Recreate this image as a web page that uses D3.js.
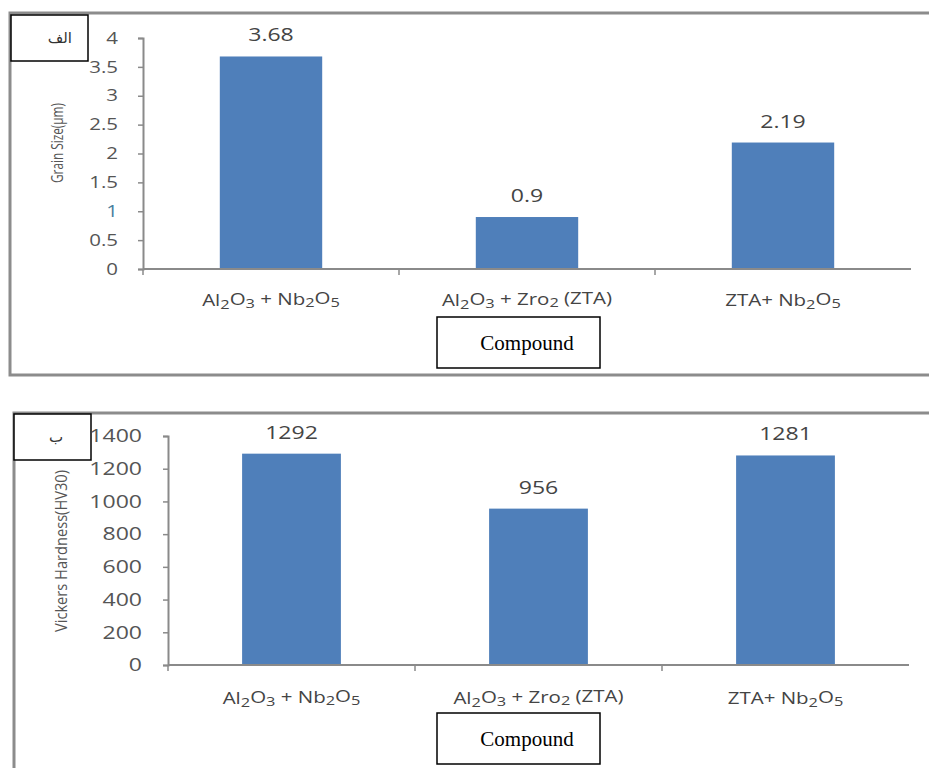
<!DOCTYPE html>
<html><head><meta charset="utf-8">
<script src="https://cdn.jsdelivr.net/npm/d3@7"></script>
<style>body{margin:0;background:#fff}svg{display:block}</style>
</head><body>
<svg id="c" width="929" height="768"></svg>
<script>
// ---- data ----
const categoriesTop = ["Al2O3 + Nb2O5", "Al2O3 + Zro2 (ZTA)", "ZTA+ Nb2O5"];
const grainSize = [3.68, 0.9, 2.19];
const grainTicks = [0, 0.5, 1, 1.5, 2, 2.5, 3, 3.5, 4];
const grainTickLabels = ["0", "0.5", "1", "1.5", "2", "2.5", "3", "3.5", "4"];

const categoriesBottom = ["Al2O3 + Nb2O5", "Al2O3 + Zro2 (ZTA)", "ZTA+ Nb2O5"];
const hardness = [1292, 956, 1281];
const hardTicks = [0, 200, 400, 600, 800, 1000, 1200, 1400];
const hardTickLabels = ["0", "200", "400", "600", "800", "1000", "1200", "1400"];

const svg = d3.select("#c");
const BAR = "#4f7fba", AX = "#8a8a8a", TXT = "#555";
const SX = 1.28; // horizontal stretch of the reference's lettering

function subLabel(sel, str) {
  const parts = str.match(/\d+|\D+/g);
  parts.forEach(p => {
    const isSub = /^\d+$/.test(p);
    sel.append("tspan").text(p)
      .attr("font-size", isSub ? "0.8em" : null)
      .attr("dy", isSub ? "0.22em" : null);
    if (isSub) sel.append("tspan").text("\u200B").attr("dy", "-0.22em");
  });
}

function stretchedText(parent, x, y) {
  return parent.append("text")
    .attr("transform", `translate(${x},${y}) scale(${SX},1)`)
    .attr("text-anchor", "middle");
}

function drawChart(o) {
  const g = svg.append("g");
  g.append("path")
    .attr("d", o.framePath)
    .attr("fill", "none").attr("stroke", "#8c8c8c").attr("stroke-width", 3);
  g.append("rect").attr("x", o.tag.x).attr("y", o.tag.y).attr("width", 77).attr("height", 46)
    .attr("fill", "#fff").attr("stroke", "#000").attr("stroke-width", 1.5);
  g.append("text").attr("x", o.tag.x + o.tag.tx).attr("y", o.tag.y + 28)
    .attr("text-anchor", "end").attr("direction", "ltr")
    .attr("font-family", "'DejaVu Sans', sans-serif")
    .attr("font-size", 15).attr("fill", "#333").text(o.tag.text);

  const y = d3.scaleLinear().domain(o.domain).range([o.y0, o.y1]);
  const x = d3.scaleBand().domain(o.cats).range([o.x0, o.x1]).paddingInner(0.6).paddingOuter(0.3);
  const step = x.step();

  g.selectAll(".bar").data(o.values).enter().append("rect")
    .attr("x", (d, i) => x(o.cats[i]))
    .attr("width", x.bandwidth())
    .attr("y", d => y(d))
    .attr("height", d => y(0) - y(d))
    .attr("fill", BAR);

  const yAxis = d3.axisLeft(y).tickValues(o.ticks).tickSize(5).tickPadding(o.tickPad)
    .tickFormat((d, i) => o.tickLabels[i]);
  const ya = g.append("g").attr("transform", `translate(${o.x0},0)`).call(yAxis);
  ya.select(".domain").attr("stroke", AX).attr("stroke-width", 2);
  ya.selectAll(".tick line").attr("stroke", AX).attr("stroke-width", 1.5);
  ya.selectAll(".tick text").attr("font-family", "'Open Sans', sans-serif")
    .attr("font-size", o.tickFont)
    .attr("fill", d => (o.blueOne && d === 1) ? "#4a7e9e" : TXT)
    .attr("x", -(5 + o.tickPad) / SX)
    .attr("transform", `scale(${SX},1)`);

  g.append("line").attr("x1", o.x0).attr("x2", o.x1).attr("y1", y(0)).attr("y2", y(0))
    .attr("stroke", AX).attr("stroke-width", 2);
  d3.range(o.cats.length).forEach(i => {
    g.append("line").attr("x1", o.x0 + i * step).attr("x2", o.x0 + i * step)
      .attr("y1", y(0)).attr("y2", y(0) + 6).attr("stroke", AX).attr("stroke-width", 1.5);
  });

  o.cats.forEach((c, i) => {
    const t = stretchedText(g, x(c) + x.bandwidth() / 2, o.catY)
      .attr("font-family", "'Open Sans', sans-serif")
      .attr("font-size", 16).attr("fill", "#444");
    subLabel(t, c);
  });

  o.values.forEach((d, i) => {
    stretchedText(g, x(o.cats[i]) + x.bandwidth() / 2, y(d) - 15)
      .attr("font-family", "'Open Sans', sans-serif")
      .attr("font-size", 18).attr("fill", "#444")
      .text(String(d));
  });

  g.append("text").attr("transform", `translate(${o.ytx},${o.yty}) rotate(-90)`)
    .attr("text-anchor", "middle").attr("font-family", "'Open Sans', sans-serif")
    .attr("font-size", 17).attr("fill", "#555")
    .attr("textLength", o.ytLen).attr("lengthAdjust", "spacingAndGlyphs")
    .text(o.ytitle);

  g.append("rect").attr("x", 437).attr("y", o.boxY).attr("width", 163).attr("height", 51)
    .attr("fill", "#fff").attr("stroke", "#000").attr("stroke-width", 1.5);
  g.append("text").attr("x", 527).attr("y", o.boxY + 33).attr("text-anchor", "middle")
    .attr("font-family", "'Liberation Serif', 'Times New Roman', serif")
    .attr("font-size", 21).attr("fill", "#000").text("Compound");
}

drawChart({
  framePath: "M935,13 L10,13 L10,375 L935,375",
  tag: {x: 11, y: 15, tx: 61, text: "الف"},
  domain: [0, 4], y0: 269, y1: 38, x0: 143, x1: 911,
  cats: categoriesTop, values: grainSize, ticks: grainTicks, tickLabels: grainTickLabels,
  tickPad: 20, tickFont: 16, blueOne: true,
  catY: 306, ytitle: "Grain Size(\u00B5m)", ytx: 63, yty: 143, ytLen: 80,
  boxY: 317
});

drawChart({
  framePath: "M935,413 L14,413 L14,775",
  tag: {x: 14, y: 414, tx: 49, text: "ب"},
  domain: [0, 1400], y0: 665, y1: 436, x0: 168, x1: 909,
  cats: categoriesBottom, values: hardness, ticks: hardTicks, tickLabels: hardTickLabels,
  tickPad: 21, tickFont: 18, blueOne: false,
  catY: 704, ytitle: "Vickers Hardness(HV30)", ytx: 67, yty: 551, ytLen: 162,
  boxY: 713
});
</script>
</body></html>
